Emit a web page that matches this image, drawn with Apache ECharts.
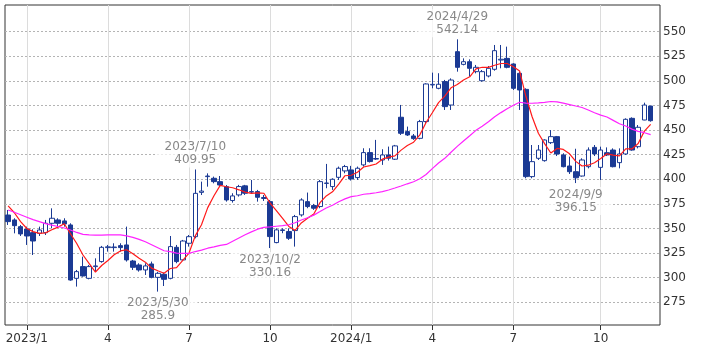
<!DOCTYPE html>
<html>
<head>
<meta charset="utf-8">
<script src="https://cdn.jsdelivr.net/npm/echarts@6/dist/echarts.min.js"></script>
<style>
  html, body { margin: 0; padding: 0; background: #fff; }
  #chart { width: 709px; height: 354px; }
</style>
</head>
<body>
<div id="chart"></div>
<script>
// 週足（月曜日付）2022/12/12 〜 2024/12/2、最後の1本は空き
const weekCount = 105
const categories = []
for (let i = 0; i < weekCount; i++) {
  const d = new Date(2022, 11, 12 + i * 7)
  categories.push(`${d.getFullYear()}/${d.getMonth() + 1}/${d.getDate()}`)
}

// 四本値
const opens = [
  363.7, 358.7, 351.9, 349.5, 345.8, 345.1, 345.8, 355.3, 358.7, 357.7,
  353.6, 299.4, 311.3, 299.4, 311.3, 316.4, 330.6, 330.6, 332.6, 333.3,
  317.0, 313.0, 307.9, 314.0, 300.4, 303.5, 299.4, 330.9, 318.1, 335.0,
  341.7, 386.7, 402.7, 401.0, 397.6, 392.5, 378.4, 384.1, 393.3, 387.0,
  387.5, 380.5, 377.3, 335.7, 348.0, 346.9, 347.9, 363.8, 377.3, 373.3,
  372.3, 395.8, 392.6, 402.0, 408.5, 409.5, 401.7, 414.6, 427.1, 420.5,
  419.6, 424.7, 420.4, 463.0, 448.4, 444.0, 441.6, 458.6, 495.8, 492.4,
  499.2, 475.4, 529.6, 516.7, 519.4, 509.3, 500.1, 504.9, 511.7, 521.1,
  522.8, 517.1, 507.6, 491.3, 402.7, 421.3, 418.9, 437.2, 443.3, 424.7,
  413.5, 407.7, 403.3, 412.8, 432.4, 412.1, 427.0, 429.7, 416.9, 425.7,
  461.9, 433.1, 460.2, 474.4
]
const closes = [
  357.0, 352.9, 344.5, 342.4, 337.3, 348.5, 355.3, 360.4, 355.3, 354.6,
  297.7, 306.2, 301.8, 311.3, 312.0, 330.9, 331.4, 331.2, 330.6, 318.1,
  310.6, 307.9, 312.0, 300.4, 304.5, 298.4, 331.6, 316.4, 337.3, 341.7,
  385.7, 388.0, 403.3, 397.6, 394.2, 379.0, 383.1, 392.6, 385.8, 387.5,
  381.7, 381.5, 341.8, 348.6, 348.6, 340.1, 362.1, 379.0, 372.3, 370.6,
  397.6, 396.2, 400.0, 411.2, 412.9, 400.3, 411.2, 427.1, 418.0, 421.1,
  424.7, 421.4, 433.9, 446.7, 445.0, 441.3, 458.6, 496.8, 496.4, 496.5,
  473.8, 500.8, 513.7, 519.4, 512.7, 513.7, 509.3, 512.7, 530.6, 521.9,
  513.7, 492.4, 490.7, 402.7, 417.9, 429.7, 439.9, 443.3, 425.7, 412.8,
  407.7, 401.5, 419.6, 429.7, 425.7, 429.7, 424.7, 412.8, 425.7, 460.9,
  429.7, 452.8, 475.4, 459.5
]
const lows = [
  353.6, 345.1, 342.4, 333.3, 323.1, 342.4, 343.4, 350.2, 351.9, 351.9,
  297.0, 291.0, 301.1, 298.4, 306.9, 315.3, 326.5, 326.5, 326.5, 316.4,
  307.9, 306.2, 302.8, 299.4, 285.9, 291.6, 298.4, 314.7, 317.4, 331.6,
  340.0, 384.0, 392.5, 395.9, 392.5, 377.3, 376.3, 382.4, 384.1, 385.1,
  377.3, 378.0, 330.16, 335.0, 345.2, 338.4, 331.6, 362.1, 370.6, 368.9,
  370.6, 390.9, 389.2, 399.3, 406.1, 398.7, 399.3, 412.9, 417.0, 419.6,
  414.6, 419.0, 419.6, 445.0, 444.0, 440.0, 440.6, 456.9, 492.4, 491.4,
  470.4, 470.4, 509.3, 515.7, 504.2, 507.6, 499.1, 503.5, 510.3, 512.7,
  512.7, 490.7, 470.4, 401.0, 401.0, 419.6, 417.9, 435.8, 423.6, 412.1,
  405.4, 396.15, 402.7, 411.1, 423.6, 399.3, 423.6, 412.1, 411.1, 424.7,
  429.0, 431.4, 460.0, 458.5
]
const highs = [
  368.8, 360.4, 353.6, 351.9, 349.2, 351.9, 358.7, 370.5, 360.4, 360.4,
  355.3, 307.9, 321.4, 313.0, 319.7, 332.3, 333.3, 335.0, 335.0, 351.9,
  318.1, 314.7, 314.7, 316.4, 306.0, 305.2, 342.4, 333.3, 338.4, 343.4,
  409.95, 397.6, 406.0, 402.7, 403.3, 394.2, 385.8, 394.3, 394.3, 399.3,
  389.2, 384.0, 379.0, 350.2, 350.2, 350.2, 363.8, 380.7, 386.5, 375.0,
  399.3, 415.6, 401.0, 412.9, 414.6, 413.6, 412.9, 431.5, 431.5, 440.0,
  430.5, 433.2, 434.9, 475.5, 453.5, 446.0, 460.3, 497.5, 508.3, 507.7,
  500.9, 502.5, 542.14, 522.8, 521.8, 516.1, 511.0, 515.0, 536.4, 536.4,
  534.7, 517.8, 509.3, 492.4, 434.8, 434.8, 440.6, 450.0, 444.0, 426.4,
  423.0, 431.0, 421.3, 432.4, 434.8, 433.1, 432.4, 431.4, 431.4, 461.9,
  462.9, 455.1, 477.8, 474.4
]

// 移動平均（赤：短期、ピンク：長期）
const maShort = [
  373.0, 366.0, 357.0, 350.0, 346.8, 345.1, 345.6, 348.8, 351.4, 354.8,
  344.7, 334.8, 323.1, 314.3, 305.8, 312.4, 317.5, 323.4, 327.2, 328.4,
  324.4, 319.7, 315.8, 309.8, 307.1, 304.6, 309.4, 310.3, 317.6, 325.1,
  342.5, 353.8, 371.2, 383.3, 393.8, 392.4, 391.4, 389.3, 386.9, 385.6,
  386.1, 385.8, 375.7, 368.2, 360.4, 352.1, 348.2, 355.7, 360.4, 364.8,
  376.3, 383.1, 387.3, 395.1, 403.6, 404.1, 407.1, 412.5, 413.9, 415.5,
  420.4, 422.5, 423.8, 429.6, 434.3, 437.7, 445.1, 457.7, 467.6, 477.9,
  484.4, 492.9, 496.2, 500.8, 504.1, 512.1, 513.8, 513.6, 515.8, 517.6,
  517.6, 514.3, 509.9, 484.3, 463.5, 446.7, 436.2, 426.7, 431.3, 430.3,
  425.9, 418.2, 413.5, 414.3, 416.8, 421.2, 425.9, 424.5, 423.7, 430.8,
  430.8, 436.4, 448.9, 455.7
]
const maLong = [
  368.8, 366.5, 364.0, 361.5, 359.0, 357.0, 355.0, 353.5, 352.0, 350.5,
  348.5, 346.0, 344.0, 343.5, 343.3, 343.3, 343.5, 343.6, 343.5, 342.5,
  341.0, 339.0, 336.5, 333.5, 330.5, 327.4, 326.5, 325.0, 324.8, 324.7,
  326.6, 328.1, 330.0, 331.4, 332.9, 333.8, 337.1, 340.4, 343.7, 346.6,
  349.3, 351.2, 351.6, 352.3, 353.0, 353.8, 355.8, 358.6, 360.9, 363.6,
  367.2, 370.9, 373.6, 377.2, 380.1, 382.4, 383.3, 384.8, 385.4, 386.3,
  387.5, 389.1, 391.1, 393.2, 395.4, 397.5, 400.5, 404.9, 410.8, 416.5,
  421.3, 427.5, 433.4, 438.8, 444.2, 449.7, 453.9, 458.4, 463.5, 467.7,
  471.6, 475.1, 478.2, 477.3, 477.2, 477.6, 478.2, 479.0, 478.7, 477.4,
  475.9, 474.4, 472.9, 470.3, 467.6, 465.1, 463.2, 459.8, 456.4, 454.1,
  450.9, 448.6, 447.3, 445.3
]

// 目盛
const tickIndex = [3, 16, 29, 42, 55, 68, 81, 95]
const tickLabels = ['2023/1', '4', '7', '10', '2024/1', '4', '7', '10']
const yTicks = [275, 300, 325, 350, 375, 400, 425, 450, 475, 500, 525, 550]

// 高値・安値の注記
const noteIndex = [24, 30, 42, 72, 91]
const noteDate = ['2023/5/30', '2023/7/10', '2023/10/2', '2024/4/29', '2024/9/9']
const noteValue = [285.9, 409.95, 330.16, 542.14, 396.15]
const notePos = ['bottom', 'top', 'bottom', 'top', 'bottom']

const font = 'DejaVu Sans'
const navy = '#1b3a94'
const isTick = idx => tickIndex.includes(idx)

const candles = opens.map((o, i) => [o, closes[i], lows[i], highs[i]])

const chart = echarts.init(document.getElementById('chart'))
chart.setOption({
  animation: false,
  backgroundColor: '#fff',
  grid: {
    left: 5, right: 49, top: 5, bottom: 29,
    show: true, borderColor: '#333', borderWidth: 1
  },
  xAxis: {
    type: 'category',
    data: categories,
    boundaryGap: true,
    axisLine: { show: false },
    axisTick: {
      show: true, alignWithLabel: true, interval: isTick, length: 5,
      lineStyle: { color: '#333' }
    },
    axisLabel: {
      interval: isTick,
      formatter: (v, i) => tickLabels[tickIndex.indexOf(i)],
      color: '#333', fontSize: 12, fontFamily: font, margin: 8
    },
    splitLine: {
      show: true, interval: isTick, alignWithLabel: true,
      lineStyle: { color: '#dcdcdc', width: 1 }
    }
  },
  yAxis: {
    type: 'value',
    position: 'right',
    min: 252,
    max: 577,
    axisLine: { show: false },
    axisTick: { show: false, customValues: yTicks },
    axisLabel: {
      customValues: yTicks,
      color: '#333', fontSize: 12, fontFamily: font, margin: 3
    },
    splitLine: {
      show: true,
      lineStyle: { color: '#b4b4b4', type: [2, 2], width: 1 }
    }
  },
  series: [
    {
      name: '株価',
      type: 'candlestick',
      data: candles,
      barWidth: 5,
      z: 2,
      itemStyle: {
        color: '#fff', color0: navy,
        borderColor: navy, borderColor0: navy, borderWidth: 1
      },
      markPoint: {
        symbol: 'circle',
        symbolSize: 0,
        silent: true,
        label: {
          show: true,
          color: '#888',
          fontSize: 12,
          fontFamily: font,
          lineHeight: 13,
          backgroundColor: 'rgba(255,255,255,0.7)',
          padding: [1, 9]
        },
        data: noteIndex.map((idx, k) => ({
          coord: [idx, noteValue[k]],
          label: {
            position: notePos[k],
            distance: notePos[k] === 'top' ? 2 : 4,
            formatter: noteDate[k] + '\n' + noteValue[k]
          }
        }))
      }
    },
    {
      name: '短期移動平均',
      type: 'line',
      data: maShort,
      symbol: 'none',
      z: 3,
      lineStyle: { color: '#ff1a1a', width: 1.2 }
    },
    {
      name: '長期移動平均',
      type: 'line',
      data: maLong,
      symbol: 'none',
      z: 3,
      lineStyle: { color: '#ff22ff', width: 1.2 }
    }
  ]
})
</script>
</body>
</html>
